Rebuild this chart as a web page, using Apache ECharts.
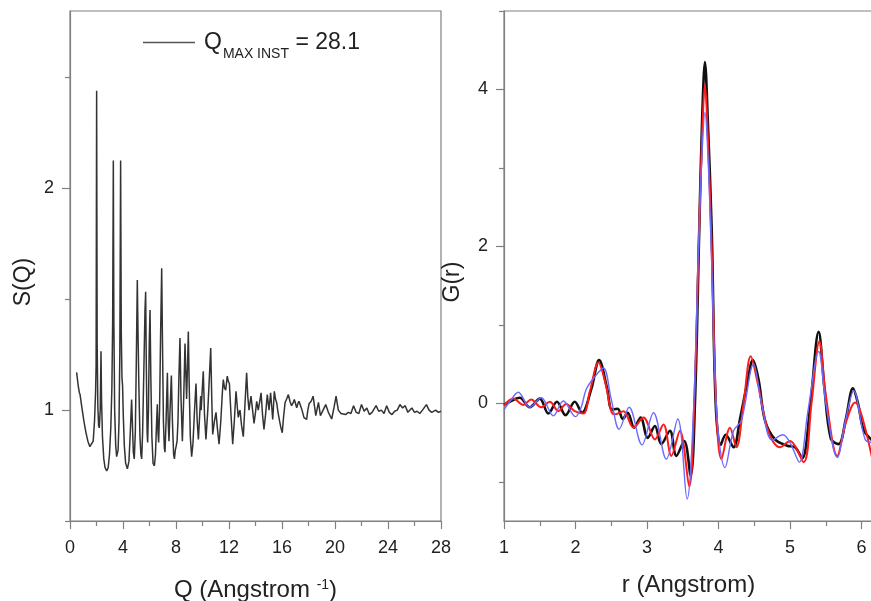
<!DOCTYPE html>
<html>
<head>
<meta charset="utf-8">
<script src="https://cdn.jsdelivr.net/npm/echarts@6/dist/echarts.min.js"></script>
<style>html,body{margin:0;padding:0;background:#fff}#c{width:871px;height:601px}</style>
</head>
<body>
<div id="c"></div>
<script>
// ---- data ----
const qMajorTicks = [0, 4, 8, 12, 16, 20, 24, 28];
const qMinorTicks = [2, 6, 10, 14, 18, 22, 26];
const sMajorTicks = [1, 2];
const sMinorTicks = [0.5, 1.5, 2.5];
const rMajorTicks = [1, 2, 3, 4, 5, 6];
const rMinorTicks = [1.5, 2.5, 3.5, 4.5, 5.5];
const gMajorTicks = [0, 2, 4];
const gMinorTicks = [-1, 1, 3, 5];

const sqPoints = [[0.50,1.17],[0.62,1.11],[0.70,1.08],[0.76,1.07],[0.90,1.01],[1.05,0.95],[1.20,0.90],[1.35,0.86],[1.50,0.835],[1.64,0.83],[1.75,0.86],[1.85,0.95],[1.93,1.08],[1.97,1.20],[2.01,2.44],[2.05,1.30],[2.10,1.02],[2.16,0.93],[2.21,0.92],[2.28,1.00],[2.34,1.265],[2.38,1.05],[2.45,0.88],[2.55,0.78],[2.65,0.74],[2.77,0.726],[2.88,0.74],[2.98,0.80],[3.08,0.92],[3.16,1.10],[3.22,1.40],[3.27,2.126],[3.31,1.40],[3.37,1.00],[3.45,0.84],[3.52,0.79],[3.57,0.786],[3.63,0.82],[3.70,0.95],[3.76,1.25],[3.82,2.126],[3.87,1.35],[3.92,1.15],[3.97,1.108],[4.02,0.98],[4.10,0.84],[4.20,0.76],[4.33,0.735],[4.45,0.77],[4.55,0.90],[4.65,1.048],[4.72,0.92],[4.78,0.81],[4.85,0.78],[4.93,0.90],[5.00,1.20],[5.08,1.587],[5.13,1.36],[5.20,1.10],[5.28,0.88],[5.35,0.80],[5.41,0.78],[5.48,0.90],[5.58,1.20],[5.66,1.45],[5.71,1.534],[5.76,1.20],[5.82,0.90],[5.86,0.854],[5.92,1.00],[5.98,1.30],[6.04,1.452],[6.10,1.15],[6.18,0.88],[6.27,0.76],[6.37,0.749],[6.45,0.80],[6.52,0.92],[6.59,1.026],[6.64,0.90],[6.69,0.854],[6.76,1.00],[6.84,1.35],[6.92,1.64],[6.98,1.30],[7.05,0.95],[7.12,0.83],[7.17,0.81],[7.25,0.95],[7.35,1.168],[7.41,0.95],[7.47,0.86],[7.55,1.00],[7.65,1.156],[7.73,0.95],[7.82,0.80],[7.88,0.78],[7.95,0.82],[8.02,0.84],[8.08,0.86],[8.15,0.95],[8.22,1.15],[8.30,1.325],[8.38,1.05],[8.48,0.86],[8.58,1.05],[8.68,1.30],[8.75,1.15],[8.80,1.05],[8.87,1.20],[8.93,1.355],[9.00,1.10],[9.08,0.88],[9.18,0.79],[9.28,0.85],[9.40,1.00],[9.51,1.12],[9.60,0.95],[9.69,0.868],[9.78,0.97],[9.86,1.063],[9.90,1.00],[9.97,1.08],[10.06,1.175],[10.15,0.98],[10.26,0.868],[10.40,1.00],[10.52,1.15],[10.62,1.28],[10.70,1.05],[10.77,0.89],[10.90,0.95],[11.02,0.99],[11.12,0.92],[11.25,0.846],[11.38,0.95],[11.50,1.08],[11.57,1.138],[11.66,1.10],[11.75,1.09],[11.87,1.153],[11.95,1.13],[12.03,1.12],[12.15,0.98],[12.28,0.846],[12.40,0.95],[12.53,1.085],[12.62,1.02],[12.70,0.967],[12.77,0.99],[12.83,1.00],[12.95,0.93],[13.08,0.88],[13.20,1.02],[13.33,1.168],[13.42,1.06],[13.51,1.00],[13.58,1.03],[13.66,1.063],[13.78,1.00],[13.89,0.94],[14.00,0.99],[14.09,1.04],[14.21,1.00],[14.32,1.04],[14.42,1.078],[14.53,0.98],[14.64,0.913],[14.76,0.98],[14.89,1.07],[15.02,1.00],[15.14,1.078],[15.22,1.02],[15.30,0.958],[15.36,1.02],[15.42,1.085],[15.51,1.05],[15.60,1.033],[15.70,0.99],[15.82,0.95],[15.92,0.92],[16.02,0.898],[16.12,0.97],[16.23,1.033],[16.35,1.05],[16.48,1.07],[16.60,1.04],[16.72,1.02],[16.82,1.03],[16.93,1.048],[17.02,1.03],[17.11,1.01],[17.20,1.03],[17.28,1.04],[17.40,1.02],[17.51,1.00],[17.66,0.966],[17.76,0.97],[17.86,0.958],[17.95,1.00],[18.05,1.03],[18.20,1.04],[18.35,1.063],[18.55,0.975],[18.75,1.035],[18.90,0.975],[19.10,1.00],[19.30,1.025],[19.50,0.99],[19.75,0.96],[19.92,1.01],[20.08,1.063],[20.25,1.00],[20.45,0.985],[20.60,0.99],[20.80,0.98],[21.00,0.99],[21.20,0.985],[21.40,1.02],[21.60,0.99],[21.80,0.985],[22.00,1.025],[22.20,0.995],[22.40,1.01],[22.60,0.98],[22.80,0.99],[23.10,1.02],[23.30,0.995],[23.50,1.00],[23.70,0.985],[23.90,1.02],[24.10,0.99],[24.30,0.98],[24.50,0.995],[24.70,1.00],[24.90,1.025],[25.10,1.01],[25.30,1.02],[25.50,0.99],[25.80,1.01],[26.00,0.99],[26.20,0.995],[26.40,0.985],[26.60,1.00],[26.90,1.025],[27.10,1.00],[27.30,0.99],[27.60,1.00],[27.80,0.99],[28.00,0.995]];

const grBlack = [[1.00,-0.02],[1.10,0.03],[1.22,0.07],[1.36,-0.05],[1.50,0.06],[1.62,-0.13],[1.74,0.02],[1.86,-0.15],[1.99,0.02],[2.09,-0.12],[2.22,0.18],[2.33,0.55],[2.44,0.20],[2.51,-0.08],[2.59,-0.07],[2.66,-0.20],[2.73,-0.12],[2.82,-0.31],[2.91,-0.18],[3.01,-0.44],[3.11,-0.29],[3.20,-0.52],[3.32,-0.35],[3.41,-0.67],[3.52,-0.48],[3.61,-0.92],[3.67,0.0],[3.73,2.2],[3.77,3.6],[3.81,4.35],[3.85,3.6],[3.905,2.2],[3.96,0.0],[4.03,-0.53],[4.10,-0.40],[4.21,-0.56],[4.30,-0.20],[4.40,0.25],[4.48,0.55],[4.56,0.30],[4.65,-0.22],[4.79,-0.46],[4.96,-0.54],[5.07,-0.56],[5.17,-0.70],[5.28,-0.05],[5.40,0.91],[5.48,0.20],[5.57,-0.45],[5.68,-0.52],[5.78,-0.20],[5.88,0.19],[5.95,0.00],[6.03,-0.34],[6.16,-0.48]];

const grRed = [[1.00,-0.03],[1.13,0.06],[1.27,-0.02],[1.38,0.05],[1.52,-0.05],[1.64,0.02],[1.76,-0.10],[1.87,-0.01],[1.99,-0.10],[2.11,-0.13],[2.20,0.15],[2.32,0.52],[2.42,0.25],[2.50,-0.10],[2.55,-0.14],[2.67,-0.10],[2.81,-0.31],[2.95,-0.18],[3.11,-0.46],[3.23,-0.27],[3.34,-0.67],[3.46,-0.35],[3.59,-1.06],[3.66,0.0],[3.725,2.1],[3.77,3.4],[3.81,4.07],[3.85,3.4],[3.90,2.1],[3.97,-0.1],[4.04,-0.71],[4.16,-0.31],[4.25,-0.56],[4.35,0.0],[4.45,0.60],[4.55,0.25],[4.70,-0.37],[4.86,-0.56],[5.00,-0.48],[5.19,-0.75],[5.30,0.0],[5.41,0.79],[5.50,0.10],[5.66,-0.67],[5.78,-0.25],[5.91,0.01],[6.00,-0.15],[6.16,-0.75]];

const grBlue = [[1.00,-0.08],[1.08,0.02],[1.20,0.14],[1.36,-0.05],[1.52,0.07],[1.69,-0.16],[1.83,0.03],[2.00,-0.17],[2.08,-0.05],[2.15,0.18],[2.28,0.35],[2.39,0.45],[2.50,0.05],[2.61,-0.33],[2.75,-0.05],[2.93,-0.53],[3.09,-0.12],[3.27,-0.71],[3.43,-0.20],[3.56,-1.22],[3.65,-0.1],[3.72,2.0],[3.77,3.2],[3.81,3.71],[3.85,3.2],[3.90,1.9],[3.98,-0.2],[4.09,-0.82],[4.21,-0.35],[4.32,-0.22],[4.49,0.50],[4.60,0.00],[4.75,-0.47],[4.90,-0.40],[5.00,-0.50],[5.13,-0.75],[5.25,-0.10],[5.40,0.66],[5.50,0.00],[5.66,-0.69],[5.78,-0.20],[5.89,0.16],[6.05,-0.46],[6.16,-0.50]];

// ---- chart ----
const FONT = '"Liberation Sans", Arial, sans-serif';
const AX = '#808080';
const TXT = '#222';
const chart = echarts.init(document.getElementById('c'), null, {renderer: 'canvas'});

function majorX(grid, min, max, ticks, name, nameGap, nameRich) {
  return {
    type: 'value', gridIndex: grid, min: min, max: max, position: 'bottom',
    name: name, nameLocation: 'middle', nameGap: nameGap,
    nameTextStyle: {fontFamily: FONT, fontSize: 24, color: TXT, rich: nameRich},
    axisLine: {show: true, onZero: false, lineStyle: {color: AX, width: 1.2}},
    axisTick: {show: true, customValues: ticks, length: 8, lineStyle: {color: AX, width: 1.2}},
    axisLabel: {show: true, customValues: ticks, margin: 18, fontFamily: FONT, fontSize: 18, color: TXT},
    splitLine: {show: false}
  };
}
function minorX(grid, min, max, ticks) {
  return {
    type: 'value', gridIndex: grid, min: min, max: max, position: 'bottom',
    axisLine: {show: false, onZero: false},
    axisTick: {show: true, customValues: ticks, length: 5, lineStyle: {color: AX, width: 1.2}},
    axisLabel: {show: false}, splitLine: {show: false}
  };
}
function majorY(grid, min, max, ticks, name, nameGap) {
  return {
    type: 'value', gridIndex: grid, min: min, max: max, position: 'left',
    name: name, nameLocation: 'middle', nameGap: nameGap,
    nameTextStyle: {fontFamily: FONT, fontSize: 23, color: TXT, padding: [0, 32, 0, 0]},
    axisLine: {show: true, onZero: false, lineStyle: {color: AX, width: 1.2}},
    axisTick: {show: true, customValues: ticks, length: 8, lineStyle: {color: AX, width: 1.2}},
    axisLabel: {show: true, customValues: ticks, margin: 16, fontFamily: FONT, fontSize: 18, color: TXT},
    splitLine: {show: false}
  };
}
function minorY(grid, min, max, ticks) {
  return {
    type: 'value', gridIndex: grid, min: min, max: max, position: 'left',
    axisLine: {show: false, onZero: false},
    axisTick: {show: true, customValues: ticks, length: 5, lineStyle: {color: AX, width: 1.2}},
    axisLabel: {show: false}, splitLine: {show: false}
  };
}

const option = {
  animation: false,
  backgroundColor: '#fff',
  textStyle: {fontFamily: FONT},
  grid: [
    {left: 70, top: 11, width: 371, height: 510, show: true, borderColor: AX, borderWidth: 1.2, backgroundColor: 'transparent', containLabel: false, outerBoundsMode: 'none'},
    {left: 504, top: 11, width: 369, height: 510, show: true, borderColor: AX, borderWidth: 1.2, backgroundColor: 'transparent', containLabel: false, outerBoundsMode: 'none'}
  ],
  legend: {
    data: ['sq'],
    left: 138, top: 26,
    icon: 'rect',
    itemWidth: 52, itemHeight: 1.3, itemGap: 0,
    itemStyle: {color: '#555'},
    formatter: function () { return '{q|Q}{sub|MAX INST}{t| = 28.1}'; },
    textStyle: {
      fontFamily: FONT, color: TXT,
      rich: {
        q: {fontSize: 23, fontFamily: FONT, color: TXT, padding: [0, 0, 0, 4]},
        sub: {fontSize: 14, fontFamily: FONT, color: TXT, verticalAlign: 'top', padding: [24, 0, 0, 1]},
        t: {fontSize: 23, fontFamily: FONT, color: TXT}
      }
    }
  },
  xAxis: [
    majorX(0, 0, 28, qMajorTicks, 'Q (Angstrom {sup|-1})', 57, {sup: {fontSize: 14, fontFamily: FONT, color: TXT, verticalAlign: 'top'}}),
    minorX(0, 0, 28, qMinorTicks),
    majorX(1, 1, 6.16, rMajorTicks, 'r (Angstrom)', 52, {}),
    minorX(1, 1, 6.16, rMinorTicks)
  ],
  yAxis: [
    majorY(0, 0.5, 2.8, sMajorTicks, 'S(Q)', 35),
    minorY(0, 0.5, 2.8, sMinorTicks),
    majorY(1, -1.5, 5, gMajorTicks, 'G(r)', 40),
    minorY(1, -1.5, 5, gMinorTicks)
  ],
  series: [
    {name: 'sq', type: 'line', xAxisIndex: 0, yAxisIndex: 0, data: sqPoints, symbol: 'none', smooth: false,
     lineStyle: {color: '#333', width: 1.5}, itemStyle: {color: '#555'}},
    {name: 'black', type: 'line', xAxisIndex: 2, yAxisIndex: 2, data: grBlack, symbol: 'none', smooth: 0.35,
     lineStyle: {color: '#111', width: 2.6}},
    {name: 'red', type: 'line', xAxisIndex: 2, yAxisIndex: 2, data: grRed, symbol: 'none', smooth: 0.35,
     lineStyle: {color: '#ff1a1a', width: 2}},
    {name: 'blue', type: 'line', xAxisIndex: 2, yAxisIndex: 2, data: grBlue, symbol: 'none', smooth: 0.35,
     lineStyle: {color: '#6a6aff', width: 1.4}}
  ]
};
chart.setOption(option);
</script>
</body>
</html>
